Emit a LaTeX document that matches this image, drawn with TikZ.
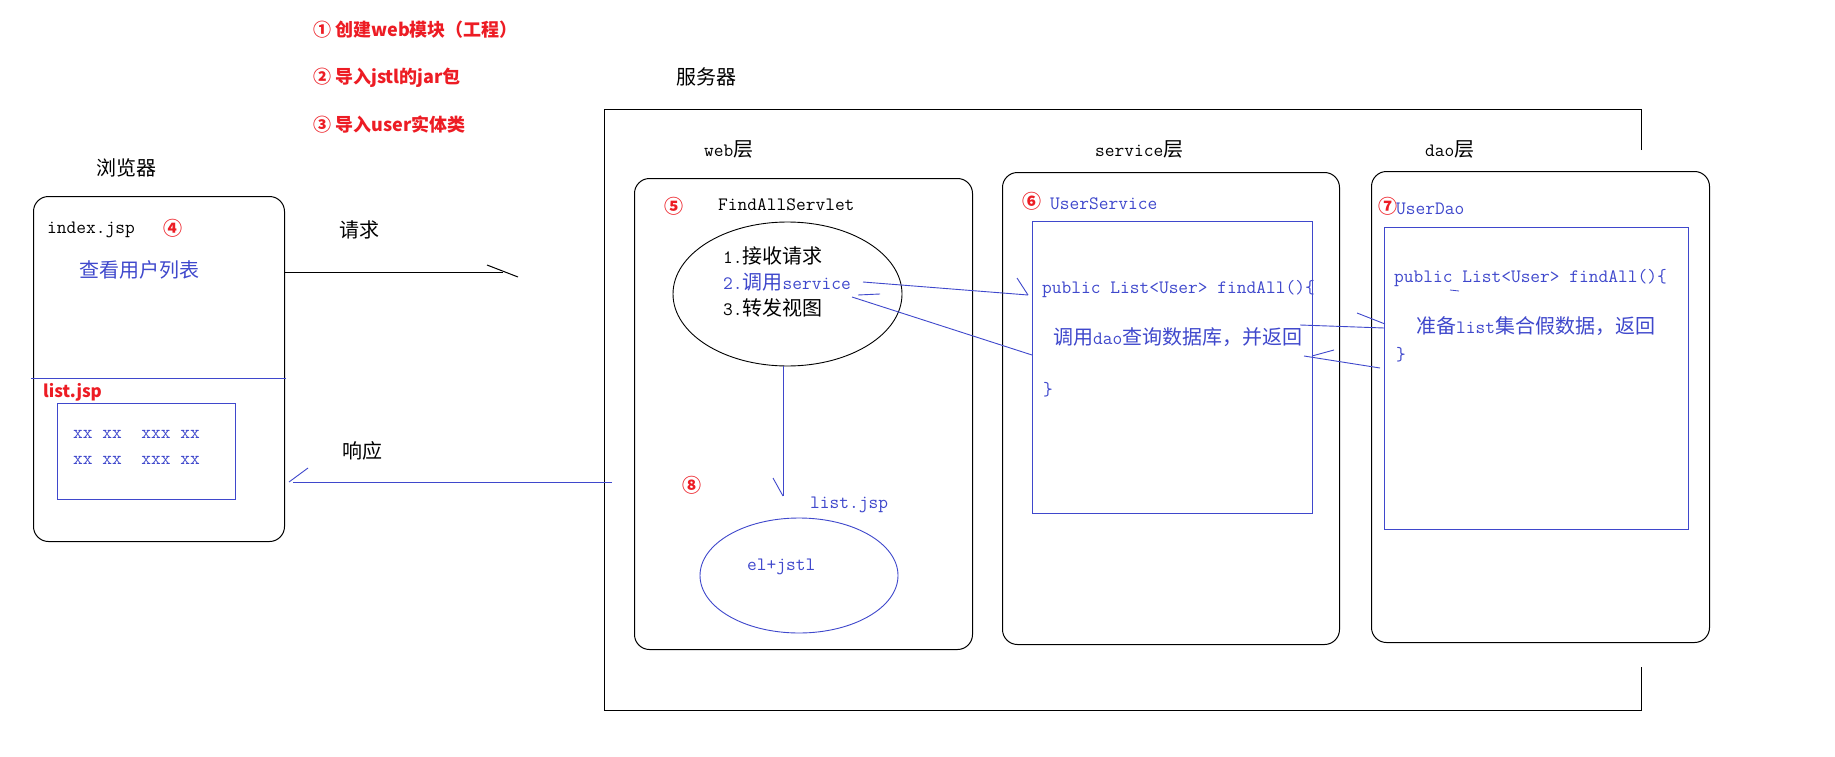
\documentclass[tikz,border=0pt]{standalone}
\usepackage{fontspec}
\usetikzlibrary{shapes.geometric}
\newfontfamily\cjk{Noto Sans CJK SC}
\definecolor{indigo}{RGB}{63,72,204}
\definecolor{paintred}{RGB}{237,28,36}
\newcommand\zh[1]{{\cjk\fontsize{20}{24}\selectfont #1}}

\begin{document}
\begin{tikzpicture}[x=1pt,y=-1pt,
  box/.style={draw, line width=1pt, rounded corners=15pt, anchor=north west, inner sep=0pt},
  pane/.style={draw=indigo, line width=1pt, anchor=north west, inner sep=0pt},
  txt/.style={anchor=west, inner sep=0pt, text height=14pt, text depth=4pt,
    font=\ttfamily\fontsize{18.9}{22}\selectfont},
  bluetxt/.style={txt, text=indigo},
  note/.style={anchor=west, inner sep=0pt, text=paintred, font=\cjk\bfseries\fontsize{18}{22}\selectfont},
  num/.style={note, font=\cjk\bfseries\fontsize{19}{22}\selectfont},
  link/.style={draw=indigo, line width=0.9pt}]
  \path[fill=white, use as bounding box] (0,0) rectangle (1835,757);

  % todo list
  \foreach \i/\y/\t in {1/30/{①\ 创建web模块（工程）},2/78/{②\ 导入jstl的jar包},3/125/{③\ 导入user实体类}}
    \node[note] (note\i) at (313,\y) {\t};

  % server
  \draw[line width=1pt] (1641,150) -- (1641,110) -- (604,110) -- (604,710) -- (1641,710) -- (1641,667);
  \node[txt] (srvlbl) at (676,80) {\zh{服务器}};

  % browser
  \node[box, minimum width=251pt, minimum height=345pt] (browser) at (33,196) {};
  \node[txt] (brlbl) at (96,170) {\zh{浏览器}};
  \node[txt] (index) at (47,228) {index.jsp};
  \node[num] (n4) at (163,228) {④};
  \node[bluetxt] (query) at (79,272) {\zh{查看用户列表}};
  \draw[link] (31,378) -- (286,378);
  \node[note, font=\cjk\bfseries\fontsize{17}{20}\selectfont] (listred) at (43,392) {list.jsp};
  \node[pane, minimum width=178pt, minimum height=96pt] (table) at (57,403) {};
  \foreach \i/\y in {1/433,2/459}
    \node[bluetxt] (row\i) at (73,\y) {xx~xx~~xxx~xx};

  % request / response
  \coordinate (reqA) at (285,272);
  \coordinate (reqB) at (503,272);
  \draw[line width=1pt] (reqA) -- (reqB);
  \draw[line width=1pt] ([shift={(-16,-7)}]reqB) -- ++(31,12);
  \node[txt] (reqlbl) at (339,232) {\zh{请求}};
  \coordinate (resA) at (612,482);
  \coordinate (resB) at (293,482);
  \draw[link] (resA) -- (resB);
  \draw[link] ([shift={(-4,0)}]resB) -- ++(19,-14);
  \node[txt] (reslbl) at (342,453) {\zh{响应}};

  % layers
  \node[txt] (weblbl) at (704,152) {web\zh{层}};
  \node[txt] (svclbl) at (1095,152) {service\zh{层}};
  \node[txt] (daolbl) at (1425,152) {dao\zh{层}};

  % web
  \node[box, minimum width=338pt, minimum height=471pt] (web) at (634,178) {};
  \node[num] (n5) at (664,206) {⑤};
  \node[txt] (servlet) at (718,205) {FindAllServlet};
  \node[draw, ellipse, line width=0.9pt, minimum width=229pt, minimum height=144pt, inner sep=0pt] (ctrl) at (787.5,294) {};
  \node[txt] (stepA) at (723,258) {1.\zh{接收请求}};
  \node[bluetxt] (stepB) at (723,284) {2.\zh{调用}service};
  \node[txt] (stepC) at (723,310) {3.\zh{转发视图}};
  \coordinate (fwd) at (783,496);
  \draw[link] (ctrl.south -| fwd) -- (fwd);
  \draw[link] ([shift={(-10,-18)}]fwd) -- (fwd);
  \node[num] (n8) at (682,485) {⑧};
  \node[bluetxt] (jsp) at (810,503) {list.jsp};
  \node[draw=indigo, ellipse, line width=0.9pt, minimum width=198pt, minimum height=115pt, inner sep=0pt] (view) at (799,575.5) {};
  \node[bluetxt] (el) at (747,565) {el+jstl};

  % service
  \node[box, minimum width=337pt, minimum height=472pt] (service) at (1002,172) {};
  \node[num] (n6) at (1022,201) {⑥};
  \node[bluetxt] (usvc) at (1050,204) {UserService};
  \node[pane, minimum width=280pt, minimum height=292pt] (svcbody) at (1032,221) {};
  \node[bluetxt] (svcsig) at (1042,288) {public List<User> findAll()\{};
  \node[bluetxt] (svcdo) at (1053,339) {\zh{调用}dao\zh{查询数据库，并返回}};
  \node[bluetxt] (svcend) at (1043,390) {\}};

  % dao
  \node[box, minimum width=338pt, minimum height=471pt] (dao) at (1371,171) {};
  \node[num] (n7) at (1378,206) {⑦};
  \node[bluetxt] (udao) at (1396,209) {UserDao};
  \node[pane, minimum width=304pt, minimum height=302pt] (daobody) at (1384,227) {};
  \node[bluetxt] (daosig) at (1394,277) {public List<User> findAll()\{};
  \draw[link, line width=0.8pt] (1450,290) -- (1459,291);
  \node[bluetxt] (daodo) at (1416,328) {\zh{准备}list\zh{集合假数据，返回}};
  \node[bluetxt] (daoend) at (1396,355) {\}};

  % calls between layers
  \coordinate (callA) at (863,282);
  \coordinate (callB) at (1028,295);
  \draw[link] (callA) -- (callB);
  \draw[link] ([shift={(-11,-17)}]callB) -- (callB);
  \coordinate (backA) at (1032,355);
  \coordinate (backB) at (852,297);
  \draw[link] (backA) -- (backB);
  \draw[link] ([shift={(6,-2)}]backB) -- ++(22,-1);
  \coordinate (daoA) at (1300,325);
  \coordinate (daoB) at (1384,328);
  \draw[link] (daoA) -- (daoB);
  \draw[link] ([shift={(-27,-15)}]daoB) -- ++(28,11);
  \coordinate (retA) at (1380,368);
  \coordinate (retB) at (1304,356);
  \draw[link] (retA) -- (retB);
  \draw[link] ([shift={(8,0)}]retB) -- ++(22,-6);
\end{tikzpicture}
\end{document}
